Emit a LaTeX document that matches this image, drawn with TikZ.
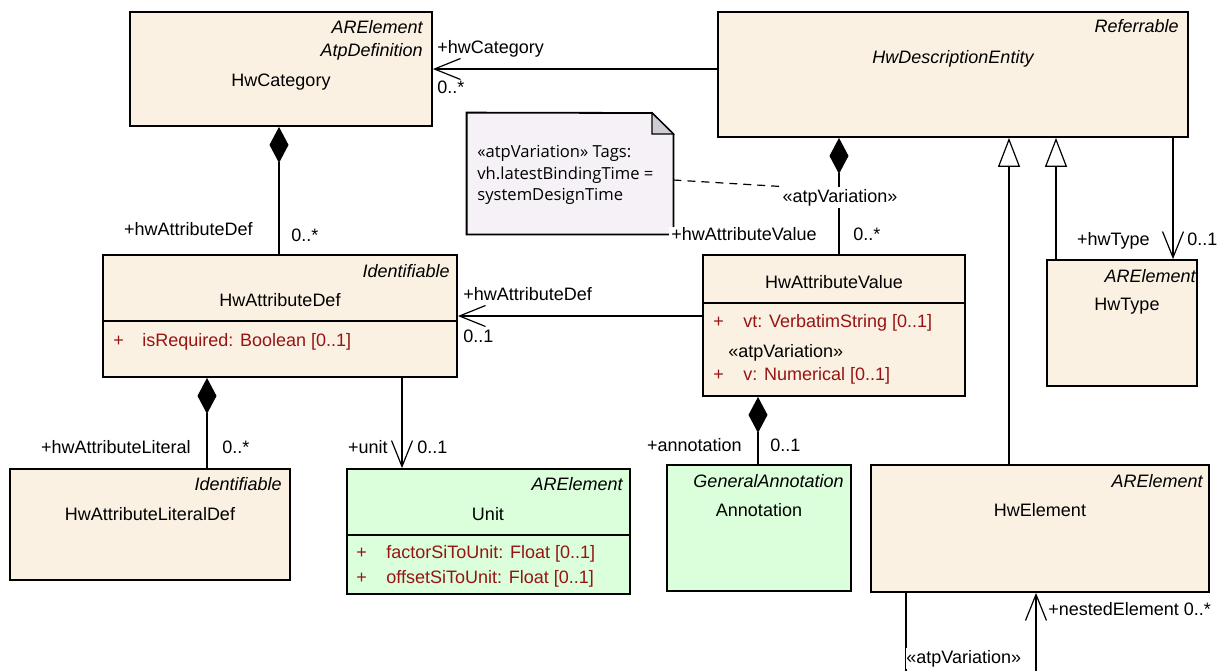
\documentclass[tikz,border=0pt]{standalone}
\usepackage{fontspec}
\setmainfont{Liberation Sans}
\newfontfamily\notefont{Open Sans}
\usetikzlibrary{arrows.meta,fit}
\definecolor{beige}{RGB}{251,241,227}
\definecolor{mint}{RGB}{219,255,219}
\definecolor{notefill}{RGB}{245,241,246}
\definecolor{foldfill}{RGB}{208,204,212}
\definecolor{attrred}{RGB}{150,20,20}
\begin{document}
\begin{tikzpicture}[x=0.5pt,y=-0.5pt,
  every node/.style={inner sep=0pt,font=\fontsize{9pt}{11pt}\selectfont},
  umlbox/.style={draw=black,line width=0.9pt,inner sep=0pt,fill=beige},
  greenbox/.style={umlbox,fill=mint},
  stereo/.style={anchor=base east,font=\fontsize{9pt}{11pt}\selectfont\itshape},
  title/.style={anchor=base},
  lbl/.style={anchor=base west},
  lblr/.style={anchor=base east},
  attr/.style={anchor=base west,text=attrred},
  notetext/.style={anchor=base west,font=\notefont\fontsize{8.3pt}{10pt}\selectfont},
  conn/.style={draw=black,line width=0.6pt},
  openarrow/.style={conn,-{Straight Barb[length=13pt,width=10.5pt,line width=0.6pt]}},
  comp/.style={conn,{Diamond[length=18pt,width=9.5pt]}-},
  gen/.style={conn,-{Triangle[open,length=14.5pt,width=11pt,fill=white,line width=0.6pt]}},
  sep/.style={draw=black,line width=0.9pt}
]
\useasboundingbox (0,0) rectangle (1223,671);
\fill[white] (0,0) rectangle (1223,671);

% ---------- boxes ----------
\node[umlbox,fit={(130,12) (432,126)}] (hwcat) {};
\node[umlbox,fit={(718,12) (1188,137)}] (hwdesc) {};
\node[umlbox,fit={(103,255) (457,377)}] (hwdef) {};
\node[umlbox,fit={(703,255) (965,396)}] (hwval) {};
\node[umlbox,fit={(1047,260) (1197,386)}] (hwtype) {};
\node[umlbox,fit={(10,469) (290,580)}] (hwlit) {};
\node[greenbox,fit={(347,469) (630,594)}] (unit) {};
\node[greenbox,fit={(667,465) (851,591)}] (annot) {};
\node[umlbox,fit={(871,465) (1209,592)}] (hwel) {};

% separators
\draw[sep] (hwdef.west |- 0,321) -- (hwdef.east |- 0,321);
\draw[sep] (hwval.west |- 0,303) -- (hwval.east |- 0,303);
\draw[sep] (unit.west |- 0,535) -- (unit.east |- 0,535);

% note
\node[fit={(467,113) (673,234)}] (note) {};
\draw[line width=0.9pt,fill=notefill] (note.north west) -- (652,113) -- (note.east |- 0,134) -- (note.south east) -- (note.south west) -- cycle;
\draw[line width=0.6pt,fill=foldfill] (652,113) -- (652,134) -- (note.east |- 0,134) -- cycle;
\node[notetext] (n1) at (477,157) {«atpVariation» Tags:};
\node[notetext] (n2) at (477,179) {vh.latestBindingTime =};
\node[notetext] (n3) at (477,200) {systemDesignTime};

% ---------- box texts ----------
\node[stereo] (t1) at (423,33) {ARElement};
\node[stereo] (t2) at (423,56) {AtpDefinition};
\node[title] (t3) at (281,86) {HwCategory};

\node[stereo] (t4) at (1179,32) {Referrable};
\node[title,font=\fontsize{9pt}{11pt}\selectfont\itshape] (t5) at (953,63) {HwDescriptionEntity};

\node[stereo] (t6) at (450,277) {Identifiable};
\node[title] (t7) at (280,306) {HwAttributeDef};
\node[attr] (t8) at (113,346) {+};
\node[attr] (t9) at (142,346) {isRequired: Boolean [0..1]};

\node[title] (t10) at (834,288) {HwAttributeValue};
\node[attr] (t11) at (713,327) {+};
\node[attr] (t12) at (743,327) {vt: VerbatimString [0..1]};
\node[lbl] (t13) at (728,357) {«atpVariation»};
\node[attr] (t14) at (713,380) {+};
\node[attr] (t15) at (743,380) {v: Numerical [0..1]};

\node[stereo] (t16) at (1196,282) {ARElement};
\node[title] (t17) at (1127,310) {HwType};

\node[stereo] (t18) at (282,490) {Identifiable};
\node[title] (t19) at (150,520) {HwAttributeLiteralDef};

\node[stereo] (t20) at (623,490) {ARElement};
\node[title] (t21) at (488,520) {Unit};
\node[attr] (t22) at (356,558) {+};
\node[attr] (t23) at (386,558) {factorSiToUnit: Float [0..1]};
\node[attr] (t24) at (356,583) {+};
\node[attr] (t25) at (386,583) {offsetSiToUnit: Float [0..1]};

\node[stereo] (t26) at (844,487) {GeneralAnnotation};
\node[title] (t27) at (759,516) {Annotation};

\node[stereo] (t28) at (1203,487) {ARElement};
\node[title] (t29) at (1040,516) {HwElement};

% ---------- connectors ----------
\draw[openarrow] (hwdesc.west |- 0,69) -- (hwcat.east |- 0,69);
\node[lbl] (c1) at (437,53) {+hwCategory};
\node[lbl] (c2) at (437,93) {0..*};

\draw[comp] (hwcat.south -| 279,0) -- (hwdef.north -| 279,0);
\node[lblr] (c3) at (253,235) {+hwAttributeDef};
\node[lbl] (c4) at (291,241) {0..*};

\draw[comp] (hwdesc.south -| 839,0) -- (hwval.north -| 839,0);
\node[anchor=base,fill=white,inner ysep=1pt] (atpv) at (840,202) {«atpVariation»};
\draw[conn,dashed,dash pattern=on 4pt off 3pt] (note.east |- 0,180) -- (atpv.north west);
\node[lbl,fill=white,inner xsep=1pt] (c5) at (669,240) {+hwAttributeValue};
\node[lbl] (c6) at (853,240) {0..*};

\draw[openarrow] (hwval.west |- 0,316) -- (hwdef.east |- 0,316);
\node[lbl] (c7) at (463,300) {+hwAttributeDef};
\node[lbl] (c8) at (463,342) {0..1};

\draw[comp] (hwdef.south -| 207,0) -- (hwlit.north -| 207,0);
\node[lblr] (c9) at (191,453) {+hwAttributeLiteral};
\node[lbl] (c10) at (222,453) {0..*};

\draw[openarrow] (hwdef.south -| 402,0) -- (unit.north -| 402,0);
\node[lblr] (c11) at (388,453) {+unit};
\node[lbl] (c12) at (417,453) {0..1};

\draw[comp] (hwval.south -| 758,0) -- (annot.north -| 758,0);
\node[lblr] (c13) at (742,451) {+annotation};
\node[lbl] (c14) at (770,451) {0..1};

\draw[gen] (hwel.north -| 1009,0) -- (hwdesc.south -| 1009,0);
\draw[gen] (hwtype.north -| 1056,0) -- (hwdesc.south -| 1056,0);

\draw[openarrow] (hwdesc.south -| 1173,0) -- (hwtype.north -| 1173,0);
\node[lblr] (c15) at (1150,245) {+hwType};
\node[lbl] (c16) at (1187,245) {0..1};

\coordinate (bl) at (906,671);
\coordinate (br) at (1036,671);
\draw[conn] (hwel.south -| 906,0) -- (bl);
\draw[openarrow] (br) -- (hwel.south -| 1036,0);
\node[lbl] (c17) at (1048,615) {+nestedElement 0..*};
\node[lbl,fill=white,inner ysep=1pt] (c18) at (906,663) {«atpVariation»};
\end{tikzpicture}
\end{document}
